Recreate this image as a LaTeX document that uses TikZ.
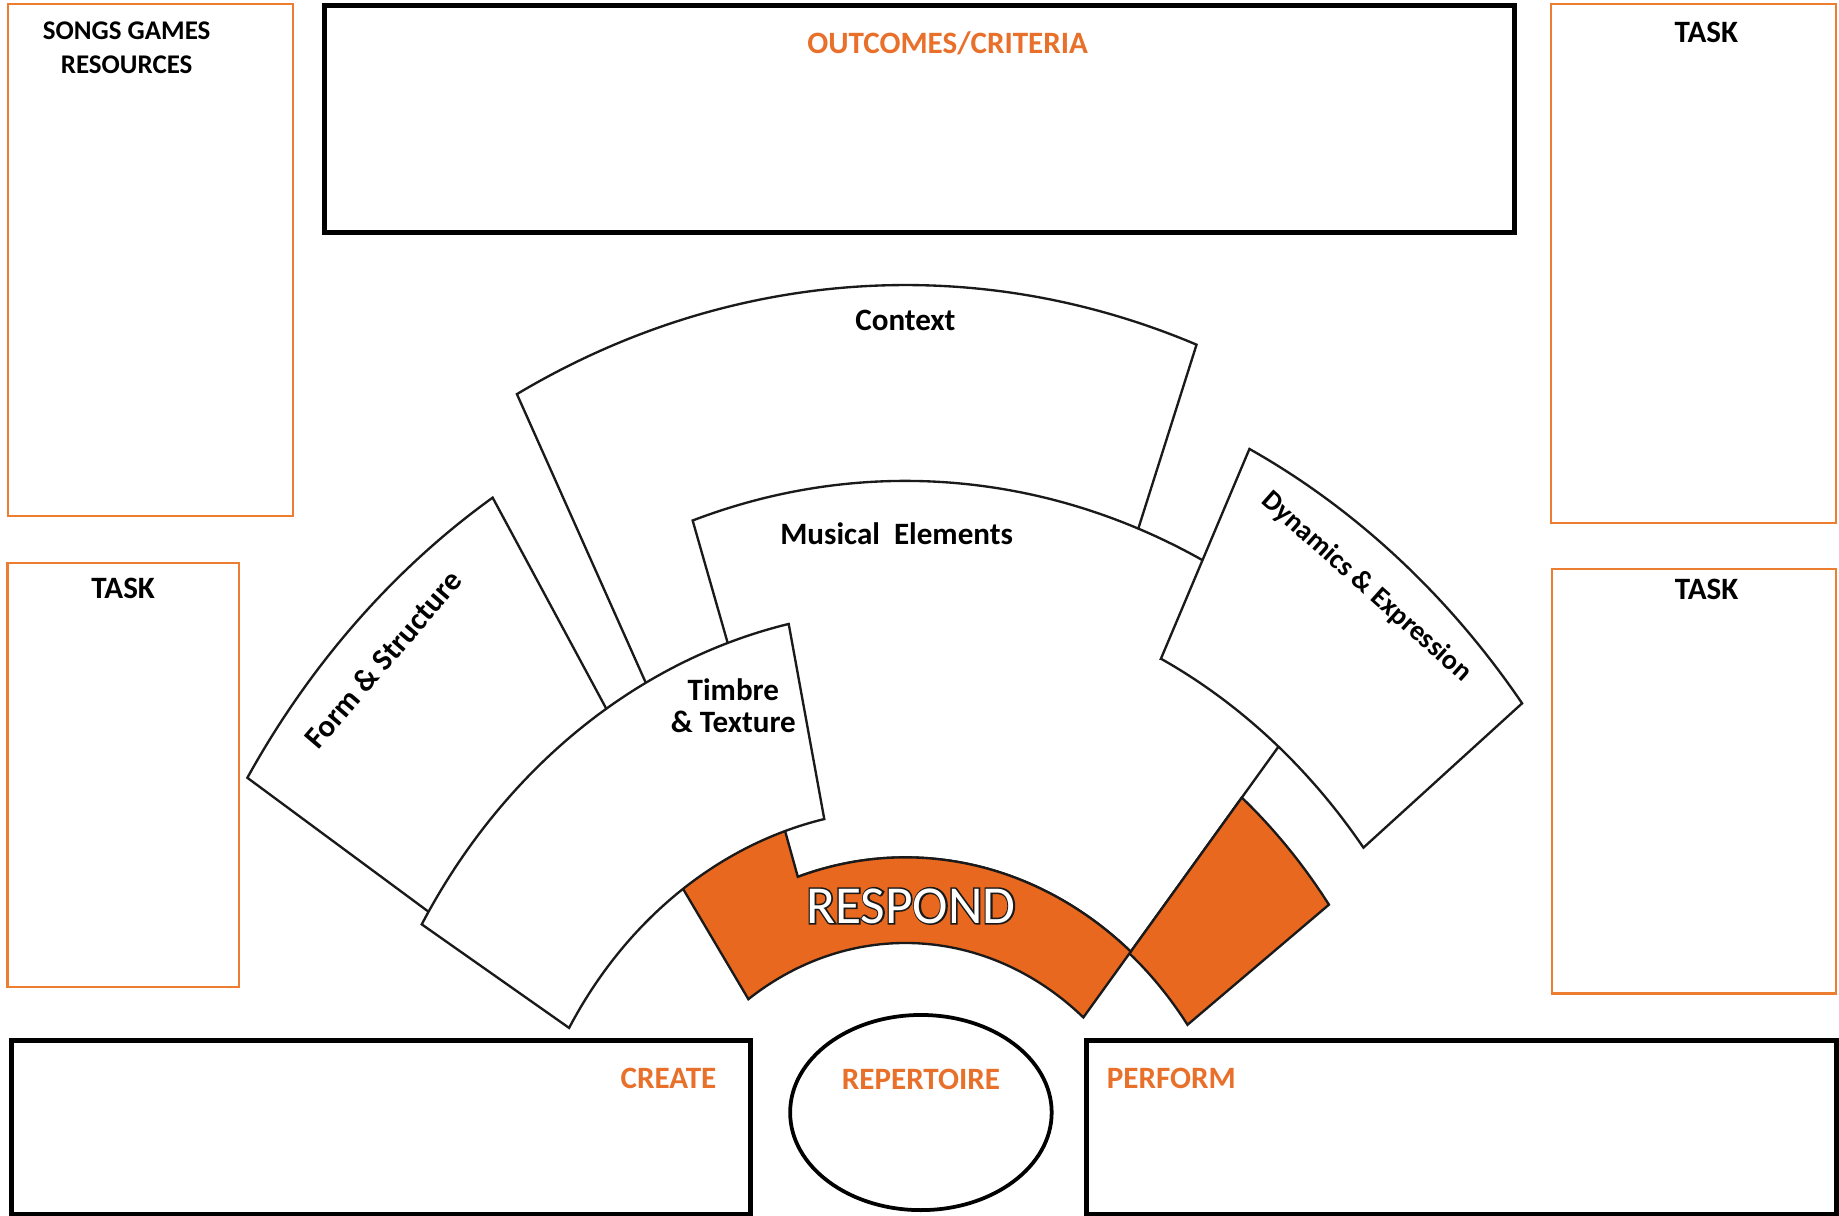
\documentclass[tikz,border=0pt]{standalone}
\usepackage{fontspec}
\setmainfont{Carlito}
\usepackage{tikz}
\usetikzlibrary{positioning,shapes.geometric}
\definecolor{oline}{HTML}{ED7D31}
\definecolor{ofill}{HTML}{E8681F}
\definecolor{otext}{HTML}{E8702A}
\definecolor{kline}{HTML}{1A1A1A}

\begin{document}
\begin{tikzpicture}[
  x=1pt,y=1pt,
  obox/.style={draw=oline,line width=2pt,inner sep=0pt,outer sep=0pt},
  kbox/.style={draw=black,line width=4.3pt,inner sep=0pt,outer sep=0pt},
  lbl/.style={font=\bfseries\fontsize{26.5}{28}\selectfont,inner sep=0pt,
              align=center},
  olbl/.style={lbl,text=otext},
  piece/.style={draw=kline,line width=2pt,fill=white},
  opiece/.style={piece,fill=ofill},
  resp/.style={font=\fontsize{45.5}{50}\selectfont,inner sep=0pt,text=white}
]
\fill[white] (0,0) rectangle (1568,1036);
\useasboundingbox (0,0) rectangle (1568,1036);

\node[obox,minimum width=243pt,minimum height=436.3pt] (res) at (128.5,814.15) {};
\node[kbox,minimum width=1014.5pt,minimum height=193.9pt] (outc) at (784.25,934.45) {};
\node[obox,minimum width=242.5pt,minimum height=442.4pt] (taska) at (1443.95,811.1) {};
\node[obox,minimum width=197.5pt,minimum height=361pt] (taskb) at (105.05,375.2) {};
\node[obox,minimum width=242.2pt,minimum height=362pt] (taskc) at (1444.1,370) {};
\node[kbox,minimum width=629.5pt,minimum height=149pt] (create) at (324.75,74.6) {};
\node[kbox,minimum width=639.4pt,minimum height=149pt] (perform) at (1246.3,74.6) {};
\node[ellipse,draw,line width=3.2pt,minimum width=223pt,minimum height=166.4pt,
      inner sep=0pt,outer sep=0pt] (repert) at (785.2,87.4) {};

\node[lbl,font=\bfseries\fontsize{23}{29}\selectfont,below=14.9pt of res.north,
      xshift=-20.5pt] (songs) {SONGS GAMES\\RESOURCES};
\node[olbl,below=22.4pt of outc.north,xshift=23.75pt] (outlbl) {OUTCOMES/CRITERIA};
\node[lbl,below=14.6pt of taska.north,xshift=11pt] (taskalbl) {TASK};
\node[lbl,below=12.8pt of taskb.north] (taskblbl) {TASK};
\node[lbl,below=8.5pt of taskc.north,xshift=11pt] (taskclbl) {TASK};
\node[olbl,below left=23.6pt and 28.5pt of create.north east] (createlbl) {CREATE};
\node[olbl,below=45.6pt of repert.north] (replbl) {REPERTOIRE};
\node[olbl,below right=23.6pt and 17pt of perform.north west] (perflbl) {PERFORM};

\begin{scope}[shift={(772,-42)},xscale=0.865]
\draw[piece] (117.3:500) -- (117.3:835) arc[start angle=117.3,end angle=69.9,radius=835]
  -- (69.9:500) arc[start angle=69.9,end angle=117.3,radius=500] -- cycle;
\draw[piece] (147.4:500) -- (147.4:770) arc[start angle=147.4,end angle=121.9,radius=770]
  -- (121.9:500) arc[start angle=121.9,end angle=147.4,radius=500] -- cycle;
\draw[piece] (108.3:347) -- (108.3:668) arc[start angle=108.3,end angle=50.2,radius=668]
  -- (50.2:347) arc[start angle=50.2,end angle=108.3,radius=347] -- cycle;
\draw[piece] (64:574.5) -- (64:773.5) arc[start angle=64,end angle=38.2,radius=773.5]
  -- (38.2:574.5) arc[start angle=38.2,end angle=64,radius=574.5] -- cycle;
\draw[opiece] (50.2:345) -- (50.2:518) arc[start angle=50.2,end angle=36.3,radius=518]
  -- (36.3:345) arc[start angle=36.3,end angle=50.2,radius=345] -- cycle;
\draw[opiece] (124.4:274) -- (124.4:400) arc[start angle=124.4,end angle=107.8,radius=400]
  -- (107.8:347) arc[start angle=107.8,end angle=50.2,radius=347]
  -- (50.2:274) arc[start angle=50.2,end angle=124.4,radius=274] -- cycle;
\draw[piece] (148.7:388) -- (148.7:558) arc[start angle=148.7,end angle=101.9,radius=558]
  -- (101.9:388) arc[start angle=101.9,end angle=148.7,radius=388] -- cycle;

\node[lbl] (context) at (90:805) {Context};
\node[lbl] (music) at (90.8:622.8) {Musical\ \ Elements};
\node[lbl,font=\bfseries\fontsize{26.5}{27.4}\selectfont] (timbre) at (109.6:505.6)
  {Timbre\\\& Texture};
\node[lbl,rotate=49.4] (form) at (134.95:728.8) {Form \& Structure};
\node[lbl,font=\bfseries\fontsize{24}{28}\selectfont,rotate=-41.7] (dyn) at (51.8:735)
  {Dynamics \& Expression};
\end{scope}

\node[resp] (respedge) at (776.6,263.6)
  {\special{pdf:code 1 Tr 2.6 w 0.1 0.1 0.1 RG}RESPOND\special{pdf:code 0 Tr}};
\node[resp] (respond) at (776.6,263.6) {RESPOND};
\end{tikzpicture}
\end{document}
